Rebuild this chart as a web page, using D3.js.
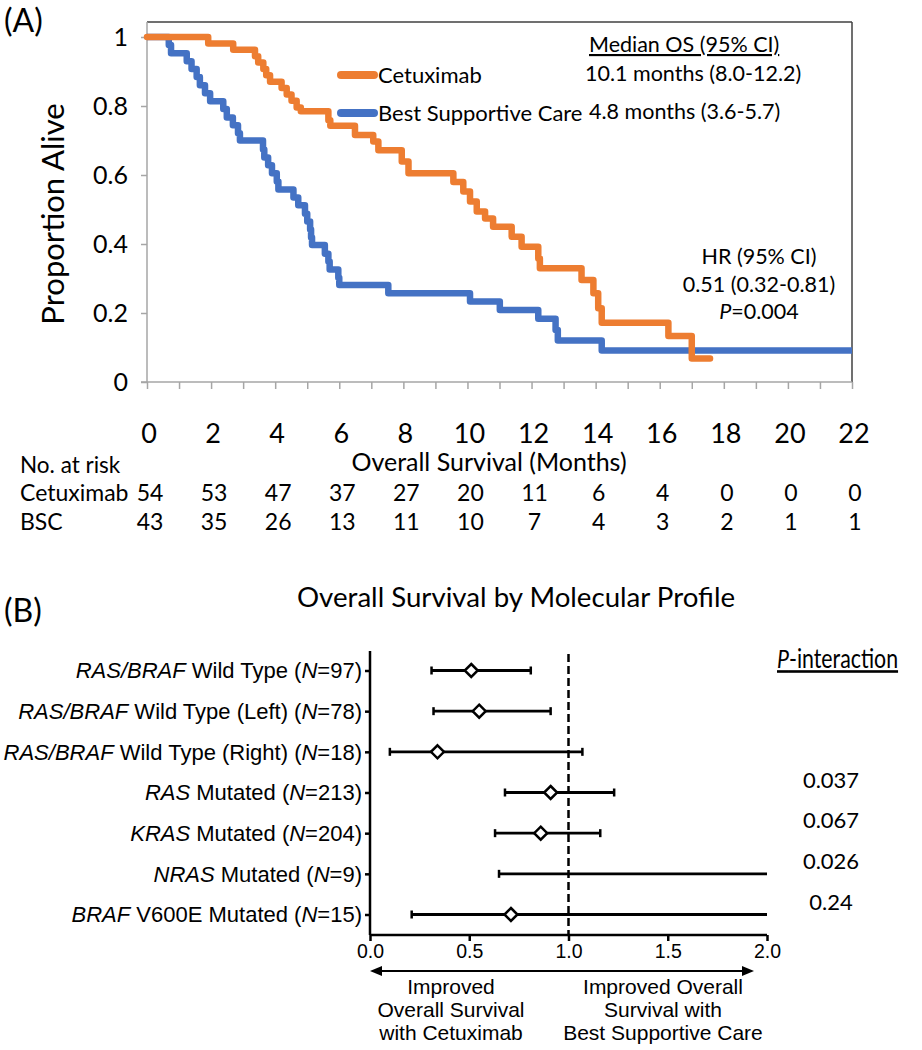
<!DOCTYPE html>
<html>
<head>
<meta charset="utf-8">
<script src="https://cdn.jsdelivr.net/npm/d3@7"></script>
<style>
  html, body { margin: 0; padding: 0; background: #fff; }
  svg { display: block; }
</style>
</head>
<body>
<svg id="chart" width="922" height="1050"></svg>
<script>
// ---------- Panel A data ----------
const kmTicks = [0, 2, 4, 6, 8, 10, 12, 14, 16, 18, 20, 22];
const kmYTicks = [0, 0.2, 0.4, 0.6, 0.8, 1];
const kmYTickLabels = ["0", "0.2", "0.4", "0.6", "0.8", "1"];
// [month, survival after event]
const cetuximabSteps = [
  [0, 1], [1.91, 0.981], [2.69, 0.963], [3.37, 0.944], [3.47, 0.926], [3.63, 0.907],
  [3.72, 0.889], [3.84, 0.870], [4.2, 0.852], [4.36, 0.833], [4.51, 0.815], [4.67, 0.796],
  [4.8, 0.785], [5.66, 0.759], [5.72, 0.743], [6.49, 0.716], [7.06, 0.697], [7.22, 0.672],
  [7.95, 0.639], [8.16, 0.605], [9.56, 0.58], [9.87, 0.552], [10.08, 0.523], [10.29, 0.494],
  [10.55, 0.474], [10.8, 0.45], [11.38, 0.421], [11.69, 0.392], [12.21, 0.358], [12.26, 0.33],
  [13.56, 0.296], [13.93, 0.257], [14.08, 0.214], [14.19, 0.172], [16.27, 0.133], [17.0, 0.068],
  [17.57, 0.068]
];
const bscSteps = [
  [0, 1], [0.68, 0.977], [0.75, 0.953], [1.24, 0.93], [1.39, 0.907], [1.55, 0.884],
  [1.65, 0.86], [1.81, 0.837], [1.97, 0.814], [2.38, 0.791], [2.49, 0.767], [2.68, 0.744],
  [2.84, 0.721], [2.9, 0.70], [3.62, 0.674], [3.66, 0.651], [3.78, 0.628], [3.9, 0.605],
  [4.05, 0.581], [4.1, 0.558], [4.57, 0.535], [4.72, 0.512], [4.93, 0.488], [5.0, 0.465],
  [5.09, 0.442], [5.12, 0.419], [5.15, 0.397], [5.55, 0.372], [5.66, 0.349], [5.7, 0.326],
  [5.97, 0.302], [6.0, 0.281], [7.53, 0.257], [10.08, 0.233], [11.01, 0.209], [12.21, 0.183],
  [12.75, 0.151], [12.82, 0.12], [14.19, 0.091], [22, 0.091]
];
const atRiskCetuximab = [54, 53, 47, 37, 27, 20, 11, 6, 4, 0, 0, 0];
const atRiskBSC = [43, 35, 26, 13, 11, 10, 7, 4, 3, 2, 1, 1];

// ---------- Panel B data ----------
const subgroupGene = ["RAS/BRAF", "RAS/BRAF", "RAS/BRAF", "RAS", "KRAS", "NRAS", "BRAF"];
const subgroupRest = [" Wild Type (", " Wild Type (Left) (", " Wild Type (Right) (", " Mutated (", " Mutated (", " Mutated (", " V600E Mutated ("];
const subgroupN = ["97", "78", "18", "213", "204", "9", "15"];
const hrPoint = [0.51, 0.55, 0.34, 0.91, 0.86, null, 0.71];
const hrLower = [0.31, 0.32, 0.10, 0.68, 0.63, 0.65, 0.21];
const hrUpper = [0.81, 0.91, 1.07, 1.23, 1.16, 2.0, 2.0];
const upperTruncated = [false, false, false, false, false, true, true];
const pInteraction = [null, null, null, "0.037", "0.067", "0.026", "0.24"];
const forestTicks = [0, 0.5, 1.0, 1.5, 2.0];

const ORANGE = "#ED7D31", BLUE = "#4472C4";
const CAL = "Lato, 'Open Sans', sans-serif";
const ARIAL = "'Liberation Sans', Arial, sans-serif";

const svg = d3.select("#chart");

// ================= Panel A =================
const x = d3.scaleLinear().domain([0, 22]).range([147, 852]);
const y = d3.scaleLinear().domain([0, 1]).range([382, 37]);

svg.append("text").attr("x", 4).attr("y", 32).attr("font-family", CAL).attr("font-size", 32).text("(A)");

// frame top & right
svg.append("line").attr("x1", x(0)).attr("x2", x(22)).attr("y1", 22).attr("y2", 22).attr("stroke", "#404040").attr("stroke-width", 1.5);
svg.append("line").attr("x1", x(22)).attr("x2", x(22)).attr("y1", 22).attr("y2", y(0)).attr("stroke", "#404040").attr("stroke-width", 1.5);

// y axis
const yAxis = d3.axisLeft(y).tickValues(kmYTicks).tickSize(6).tickFormat((d, i) => kmYTickLabels[i]);
const gy = svg.append("g").attr("transform", `translate(${x(0)},0)`).call(yAxis);
gy.select(".domain").attr("stroke", "#a6a6a6").attr("stroke-width", 1.5).attr("d", `M-6,${y(0)}H0V22`);
gy.selectAll(".tick line").attr("stroke", "#a6a6a6").attr("stroke-width", 1.5);
gy.selectAll(".tick text").attr("font-family", CAL).attr("font-size", 25).attr("fill", "#000").attr("x", -19).attr("dy", "0.35em");

// x axis with monthly ticks
const xAxis = d3.axisBottom(x).tickValues(d3.range(0, 23, 1)).tickSize(7).tickFormat("");
const gx = svg.append("g").attr("transform", `translate(0,${y(0)})`).call(xAxis);
gx.select(".domain").attr("stroke", "#a6a6a6").attr("stroke-width", 1.5).attr("d", `M${x(0)},0H${x(22)}`);
gx.selectAll(".tick line").attr("stroke", "#a6a6a6").attr("stroke-width", 1.5);

svg.append("g").selectAll("text").data(kmTicks).join("text")
  .attr("x", d => x(d) + 2).attr("y", 443).attr("text-anchor", "middle")
  .attr("font-family", CAL).attr("font-size", 27).text(d => d);

svg.append("text").attr("transform", "translate(64,214) rotate(-90)").attr("text-anchor", "middle")
  .attr("font-family", CAL).attr("font-size", 31).text("Proportion Alive");

// curves
const line = d3.line().x(d => x(d[0])).y(d => y(d[1])).curve(d3.curveStepAfter);
svg.append("path").datum(bscSteps).attr("d", line).attr("fill", "none").attr("stroke", BLUE)
  .attr("stroke-width", 6.5).attr("stroke-linejoin", "round").attr("stroke-linecap", "butt");
svg.append("path").datum(cetuximabSteps).attr("d", line).attr("fill", "none").attr("stroke", ORANGE)
  .attr("stroke-width", 6.5).attr("stroke-linejoin", "round").attr("stroke-linecap", "round");

// legend
const legend = [{ name: "Cetuximab", c: ORANGE, yy: 75 }, { name: "Best Supportive Care", c: BLUE, yy: 113 }];
legend.forEach(l => {
  svg.append("line").attr("x1", 341).attr("x2", 374).attr("y1", l.yy).attr("y2", l.yy)
    .attr("stroke", l.c).attr("stroke-width", 8).attr("stroke-linecap", "round");
  svg.append("text").attr("x", 378).attr("y", l.yy + 8).attr("font-family", CAL).attr("font-size", 22).text(l.name);
});

// median OS
svg.append("text").attr("x", 589).attr("y", 52).attr("font-family", CAL).attr("font-size", 21.5)
  .attr("text-decoration", "underline").text("Median OS (95% CI)");
svg.append("text").attr("x", 585).attr("y", 81).attr("font-family", CAL).attr("font-size", 21.5).text("10.1 months (8.0-12.2)");
svg.append("text").attr("x", 589).attr("y", 119).attr("font-family", CAL).attr("font-size", 21.5).text("4.8 months (3.6-5.7)");

// HR
svg.append("text").attr("x", 759).attr("y", 264).attr("text-anchor", "middle").attr("font-family", CAL).attr("font-size", 21.5).text("HR (95% CI)");
svg.append("text").attr("x", 759).attr("y", 292).attr("text-anchor", "middle").attr("font-family", CAL).attr("font-size", 21.5).text("0.51 (0.32-0.81)");
const pt = svg.append("text").attr("x", 759).attr("y", 319).attr("text-anchor", "middle").attr("font-family", CAL).attr("font-size", 21.5);
pt.append("tspan").attr("font-style", "italic").text("P");
pt.append("tspan").text("=0.004");

// at risk table
svg.append("text").attr("x", 20).attr("y", 473).attr("font-family", CAL).attr("font-size", 22.5).text("No. at risk");
svg.append("text").attr("x", 489).attr("y", 471).attr("text-anchor", "middle").attr("font-family", CAL).attr("font-size", 25).text("Overall Survival (Months)");
svg.append("text").attr("x", 20).attr("y", 501).attr("font-family", CAL).attr("font-size", 23).text("Cetuximab");
svg.append("text").attr("x", 20).attr("y", 530).attr("font-family", CAL).attr("font-size", 23).text("BSC");
svg.append("g").selectAll("text").data(atRiskCetuximab).join("text")
  .attr("x", (d, i) => x(kmTicks[i]) + 3).attr("y", 501).attr("text-anchor", "middle")
  .attr("font-family", CAL).attr("font-size", 23).text(d => d);
svg.append("g").selectAll("text").data(atRiskBSC).join("text")
  .attr("x", (d, i) => x(kmTicks[i]) + 3).attr("y", 530).attr("text-anchor", "middle")
  .attr("font-family", CAL).attr("font-size", 23).text(d => d);

// ================= Panel B =================
svg.append("text").attr("x", 4).attr("y", 622).attr("font-family", CAL).attr("font-size", 32).text("(B)");
svg.append("text").attr("x", 516).attr("y", 607).attr("text-anchor", "middle").attr("font-family", CAL).attr("font-size", 26)
  .attr("textLength", 438).attr("lengthAdjust", "spacingAndGlyphs")
  .text("Overall Survival by Molecular Profile");

const fx = d3.scaleLinear().domain([0, 2]).range([370, 767]);
const rows = d3.range(subgroupGene.length);
const fy = d3.scalePoint().domain(rows).range([670.5, 914.5]);
const axisY = 935;

// forest x axis
const fAxis = d3.axisBottom(fx).tickValues(forestTicks).tickSize(6).tickFormat(d3.format(".1f"));
const gfx = svg.append("g").attr("transform", `translate(0,${axisY})`).call(fAxis);
gfx.select(".domain").attr("stroke", "#000").attr("stroke-width", 2.5).attr("d", `M${fx(0)},0H${fx(2)}`);
gfx.selectAll(".tick line").attr("stroke", "#000").attr("stroke-width", 2.5);
gfx.selectAll(".tick text").attr("font-family", ARIAL).attr("font-size", 19.5).attr("fill", "#000").attr("y", 9).attr("dy", "0.71em");

// forest y axis
const fyAxis = d3.axisLeft(fy).tickSize(5).tickFormat("");
const gfy = svg.append("g").attr("transform", `translate(${fx(0)},0)`).call(fyAxis);
gfy.select(".domain").attr("stroke", "#000").attr("stroke-width", 2.5).attr("d", `M0,651V${axisY}`);
gfy.selectAll(".tick line").attr("stroke", "#000").attr("stroke-width", 2.5);

// labels
rows.forEach(i => {
  const t = svg.append("text").attr("x", 362).attr("y", fy(i)).attr("dy", "0.36em").attr("text-anchor", "end")
    .attr("font-family", ARIAL).attr("font-size", 22);
  t.append("tspan").attr("font-style", "italic").text(subgroupGene[i]);
  t.append("tspan").text(subgroupRest[i]);
  t.append("tspan").attr("font-style", "italic").text("N");
  t.append("tspan").text("=" + subgroupN[i] + ")");
});

// dashed reference line
svg.append("line").attr("x1", fx(1)).attr("x2", fx(1)).attr("y1", 654).attr("y2", axisY)
  .attr("stroke", "#000").attr("stroke-width", 2.5).attr("stroke-dasharray", "8,4");

// CI bars
rows.forEach(i => {
  const yy = fy(i);
  svg.append("line").attr("x1", fx(hrLower[i])).attr("x2", fx(hrUpper[i])).attr("y1", yy).attr("y2", yy)
    .attr("stroke", "#000").attr("stroke-width", 2.8);
  svg.append("line").attr("x1", fx(hrLower[i])).attr("x2", fx(hrLower[i])).attr("y1", yy - 4).attr("y2", yy + 4)
    .attr("stroke", "#000").attr("stroke-width", 2.5);
  if (!upperTruncated[i]) {
    svg.append("line").attr("x1", fx(hrUpper[i])).attr("x2", fx(hrUpper[i])).attr("y1", yy - 4).attr("y2", yy + 4)
      .attr("stroke", "#000").attr("stroke-width", 2.5);
  }
  if (hrPoint[i] !== null) {
    const cx = fx(hrPoint[i]);
    svg.append("path").attr("d", `M${cx},${yy - 6.5}L${cx + 6.5},${yy}L${cx},${yy + 6.5}L${cx - 6.5},${yy}Z`)
      .attr("fill", "#fff").attr("stroke", "#000").attr("stroke-width", 2.5);
  }
  if (pInteraction[i]) {
    svg.append("text").attr("x", 831).attr("y", yy - 5).attr("text-anchor", "middle")
      .attr("font-family", CAL).attr("font-size", 22).text(pInteraction[i]);
  }
});

// P-interaction header (horizontally condensed to mimic the narrow original face)
const ph = svg.append("text").attr("transform", "translate(777,668) scale(0.82,1)")
  .attr("font-family", CAL).attr("font-size", 26).attr("text-decoration", "underline");
ph.append("tspan").attr("font-style", "italic").text("P");
ph.append("tspan").text("-interaction");

// bottom arrow
const ay = 971;
svg.append("line").attr("x1", 378).attr("x2", 745).attr("y1", ay).attr("y2", ay).attr("stroke", "#000").attr("stroke-width", 2);
svg.append("path").attr("d", `M370,${ay}L382,${ay - 5}L382,${ay + 5}Z`).attr("fill", "#000");
svg.append("path").attr("d", `M754,${ay}L742,${ay - 5}L742,${ay + 5}Z`).attr("fill", "#000");

const leftTxt = ["Improved", "Overall Survival", "with Cetuximab"];
const rightTxt = ["Improved Overall", "Survival with", "Best Supportive Care"];
leftTxt.forEach((s, i) => svg.append("text").attr("x", 451).attr("y", 994 + i * 23).attr("text-anchor", "middle")
  .attr("font-family", ARIAL).attr("font-size", 21).text(s));
rightTxt.forEach((s, i) => svg.append("text").attr("x", 663).attr("y", 994 + i * 23).attr("text-anchor", "middle")
  .attr("font-family", ARIAL).attr("font-size", 21).text(s));
</script>
</body>
</html>
